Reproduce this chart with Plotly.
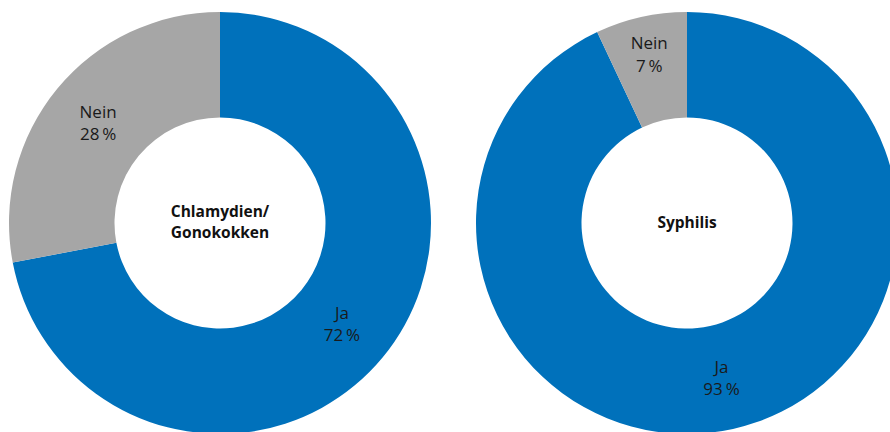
import plotly.graph_objects as go

labels = ["Ja", "Nein"]
chlamydien_values = [72, 28]
syphilis_values = [93, 7]
titles = ["Chlamydien/<br>Gonokokken", "Syphilis"]
colors = ["#0071BB", "#A6A6A6"]

W, H = 900, 440
FONT = "Open Sans"

def pie(values, title, domx, domy):
    return go.Pie(
        labels=labels,
        values=values,
        hole=0.5,
        sort=False,
        direction="clockwise",
        rotation=0,
        marker=dict(colors=colors, line=dict(width=0)),
        texttemplate="%{label}<br>%{value}\u2009%",
        textposition="inside",
        insidetextorientation="horizontal",
        textfont=dict(family=FONT, size=17, color="#1a1a1a"),
        title=dict(text="<b>" + title + "</b>", position="middle center",
                   font=dict(family=FONT, size=15.5, color="#111111")),
        domain=dict(x=domx, y=domy),
        showlegend=False,
        hoverinfo="label+percent",
    )

fig = go.Figure()
fig.add_trace(pie(chlamydien_values, titles[0], [9 / W, 431 / W], [6 / H, 428 / H]))
fig.add_trace(pie(syphilis_values, titles[1], [476 / W, 898 / W], [6 / H, 428 / H]))

fig.update_layout(
    width=W, height=H,
    margin=dict(l=0, r=0, t=0, b=0),
    paper_bgcolor="white",
    plot_bgcolor="white",
    uniformtext=dict(minsize=17, mode="show"),
)

post = (
    "document.body.style.margin='0';"
    "document.body.style.overflow='hidden';"
    "document.documentElement.style.overflow='hidden';"
)
fig.write_html("out.html", post_script=post, config={"displayModeBar": False})
